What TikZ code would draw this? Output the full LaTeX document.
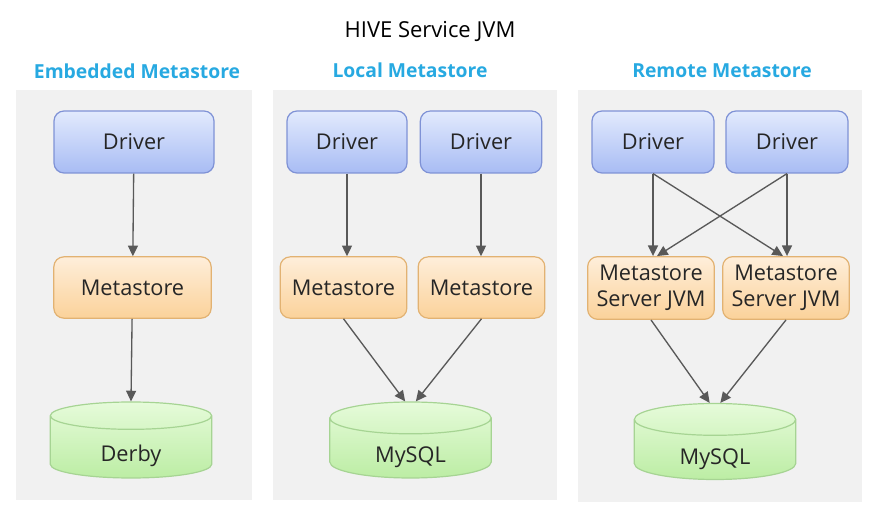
\documentclass[tikz,border=0pt]{standalone}
\usepackage{fontspec}
\setmainfont{Open Sans}
\usetikzlibrary{shapes.geometric,arrows.meta}

\definecolor{panelgrey}{HTML}{F1F1F1}
\definecolor{headblue}{HTML}{27A9E1}
\definecolor{drvtop}{HTML}{E2EAFD}
\definecolor{drvbot}{HTML}{A8BCF4}
\definecolor{drvline}{HTML}{7F92D6}
\definecolor{metatop}{HTML}{FEEEDA}
\definecolor{metabot}{HTML}{FBD29A}
\definecolor{metaline}{HTML}{E2B272}
\definecolor{dbtop}{HTML}{E6FBDA}
\definecolor{dbbot}{HTML}{BCEDA4}
\definecolor{dbline}{HTML}{A6D493}
\definecolor{linkgrey}{HTML}{595959}

\tikzset{every picture/.style={line width=0.75pt}}

\begin{document}
\begin{tikzpicture}[x=0.75pt,y=0.75pt,yscale=-1,xscale=1,
  box/.style={draw, rounded corners=7.5pt, line width=0.9pt, inner sep=0pt, align=center,
    font=\fontsize{16.3}{19.5}\selectfont, text=black!85},
  drv/.style={box, draw=drvline, top color=drvtop, bottom color=drvbot, minimum height=46.5pt},
  meta/.style={box, draw=metaline, top color=metatop, bottom color=metabot, minimum height=46pt},
  db/.style={cylinder, shape border rotate=90, aspect=0.45, draw=dbline, line width=0.9pt,
    top color=dbtop, bottom color=dbbot, minimum width=121pt, minimum height=57pt,
    inner sep=0pt, anchor=shape center, font=\fontsize{16.3}{19.5}\selectfont, text=black!85},
  link/.style={draw=linkgrey, line width=1pt, -{Triangle[length=8pt,width=7.5pt]}},
  head/.style={font=\bfseries\fontsize{14.5}{17}\selectfont, text=headblue}]
\useasboundingbox (0,0) rectangle (878,530);

% Panels
\fill[panelgrey] (16,90) rectangle (252,500);
\fill[panelgrey] (273,90) rectangle (557,500);
\fill[panelgrey] (578,90) rectangle (862,502);

% Titles
\node[font=\fontsize{16.5}{19}\selectfont] (title) at (430,32) {HIVE Service JVM};
\node[head] (embhead) at (137,71) {Embedded Metastore};
\node[head] (lochead) at (410,70) {Local Metastore};
\node[head] (remhead) at (722,71) {Remote Metastore};

% Embedded
\node[drv, minimum width=120pt] (edrv) at (134,142) {Driver};
\node[meta, minimum width=118pt] (emeta) at (132.5,287.5) {Metastore};
\node[db] (derby) at (131,440) {\raisebox{-11pt}[0pt][0pt]{Derby}};
\draw[link] (edrv) -- (emeta);
\draw[link] (emeta) -- (derby.top);

% Local
\node[drv, minimum width=90pt] (ldrva) at (347,142) {Driver};
\node[drv, minimum width=91pt] (ldrvb) at (481,142) {Driver};
\node[meta, minimum width=95pt] (lmetaa) at (343.5,287.5) {Metastore};
\node[meta, minimum width=95pt] (lmetab) at (481.5,287.5) {Metastore};
\node[db] (lsql) at (410.5,440) {\raisebox{-11pt}[0pt][0pt]{MySQL}};
\draw[link] (ldrva.south) -- (ldrva.south |- lmetaa.north);
\draw[link] (ldrvb.south) -- (ldrvb.south |- lmetab.north);
\draw[link] (lmetaa.south) -- ([xshift=-4pt]lsql.top);
\draw[link] (lmetab.south) -- ([xshift=4pt]lsql.top);

% Remote
\node[drv, minimum width=91.5pt] (rdrva) at (653,142) {Driver};
\node[drv, minimum width=91.5pt] (rdrvb) at (787,142) {Driver};
\node[meta, minimum width=95pt, minimum height=47pt] (rmetaa) at (651,288) {Metastore\\Server JVM};
\node[meta, minimum width=95pt, minimum height=47pt] (rmetab) at (786,288) {Metastore\\Server JVM};
\node[db] (rsql) at (715,441.5) {\raisebox{-11pt}[0pt][0pt]{MySQL}};
\draw[link] (rdrva.south) -- (rdrva.south |- rmetaa.north);
\draw[link] (rdrva.south) -- ([xshift=-3pt]rdrvb.south |- rmetab.north);
\draw[link] (rdrvb.south) -- ([xshift=3pt]rdrva.south |- rmetaa.north);
\draw[link] (rdrvb.south) -- (rdrvb.south |- rmetab.north);
\draw[link] (rmetaa.south) -- ([xshift=-4pt]rsql.top);
\draw[link] (rmetab.south) -- ([xshift=4pt]rsql.top);
\end{tikzpicture}
\end{document}
